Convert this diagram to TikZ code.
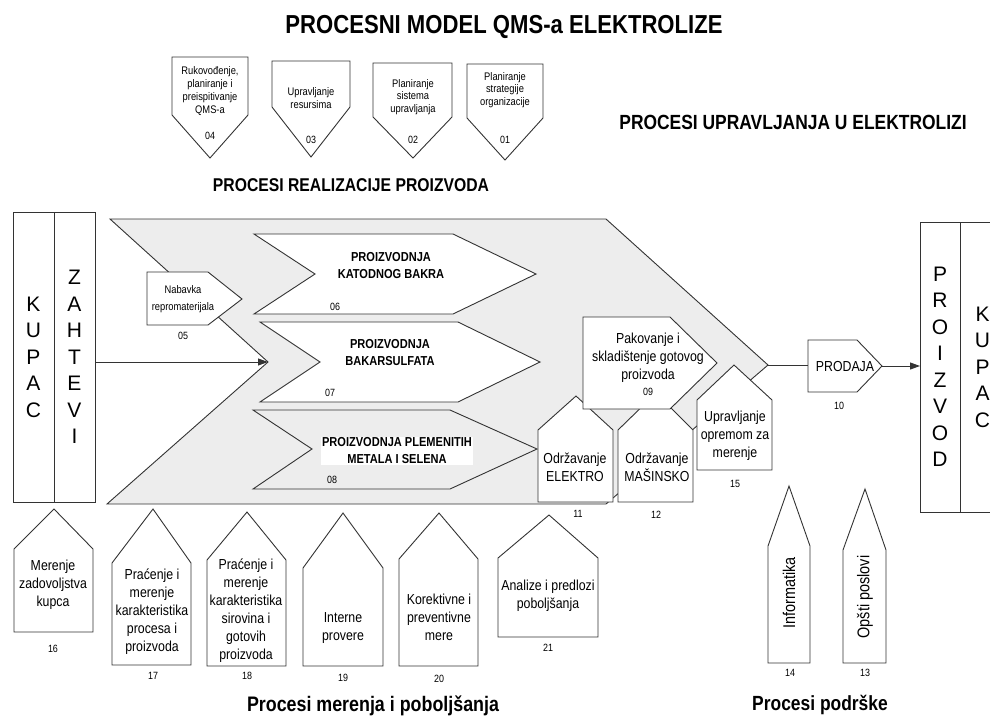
\documentclass[tikz,border=0pt]{standalone}
\usepackage{fontspec}
\setmainfont{Liberation Sans}[FakeStretch=0.85]
\newfontfamily\widefont{Liberation Sans}
\usetikzlibrary{arrows.meta}
\newcommand{\setfs}[2]{\fontsize{#1}{#2}\selectfont}

\begin{document}
\begin{tikzpicture}[x=1pt, y=-1pt, >={Triangle[length=10pt,width=7pt]},
  box/.style={draw=black!80, line width=0.9pt, fill=white, line join=miter, outer sep=0pt},
  back/.style={draw=black!80, line width=0.9pt, fill=black!7, line join=miter},
  conn/.style={draw=black!80, line width=0.9pt},
  txt/.style={align=center, inner sep=0pt, font=\setfs{14.5}{18}},
  small/.style={align=center, inner sep=0pt, font=\setfs{11}{12.8}},
  num/.style={inner sep=0pt, font=\setfs{10.5}{12}},
  bold/.style={align=center, inner sep=0pt, font=\bfseries\setfs{13}{17}},
  head/.style={inner sep=0pt, font=\bfseries\setfs{#1}{#1}},
  letters/.style={align=center, inner sep=0pt, font=\widefont\setfs{21}{26.5}}]
  \useasboundingbox (0,0) rectangle (990,716);

  % ---- titles ----
  \node[head=26] (title) at (504,27) {PROCESNI MODEL QMS-a ELEKTROLIZE};
  \node[head=20.5] (upr) at (793,122) {PROCESI UPRAVLJANJA U ELEKTROLIZI};
  \node[head=18.5] (real) at (351,185) {PROCESI REALIZACIJE PROIZVODA};

  % ---- management processes ----
  \draw[box] (172,57) -- (248,57) -- (248,115) -- (210,158) -- (172,115) -- cycle;
  \node[small] (p04) at (210,91) {Rukovođenje,\\planiranje i\\preispitivanje\\QMS-a};
  \node[num] (n04) at (210,136) {04};
  \draw[box] (272,61) -- (350,61) -- (350,107) -- (311,157) -- (272,107) -- cycle;
  \node[small] (p03) at (311,98) {Upravljanje\\resursima};
  \node[num] (n03) at (311,140) {03};
  \draw[box] (373,63) -- (452,63) -- (452,117) -- (413,158) -- (373,117) -- cycle;
  \node[small] (p02) at (413,97) {Planiranje\\sistema\\upravljanja};
  \node[num] (n02) at (413,140) {02};
  \draw[box] (467,64) -- (543,64) -- (543,118) -- (505,160) -- (467,118) -- cycle;
  \node[small] (p01) at (505,90) {Planiranje\\strategije\\organizacije};
  \node[num] (n01) at (505,140) {01};

  % ---- customer requirements ----
  \node[box, minimum width=41, minimum height=290, anchor=north west] (kupac) at (13,212) {};
  \node[box, minimum width=41, minimum height=290, anchor=north west] (zahtevi) at (kupac.north east) {};
  \node[letters] (kupacT) at (kupac) {K\\U\\P\\A\\C};
  \node[letters] (zahteviT) at (zahtevi) {Z\\A\\H\\T\\E\\V\\I};

  % ---- realization processes ----
  \draw[back] (110,219) -- (606,219) -- (768,365) -- (606,504) -- (107,504) -- (268,362) -- cycle;
  \coordinate (notch) at (268,362);
  \coordinate (tip) at (768,365);
  \draw[conn, ->] (zahtevi.east |- notch) -- (notch);

  \draw[box] (147,272) -- (208,272) -- (242,299) -- (208,325) -- (147,325) -- cycle;
  \node[txt, font=\setfs{11}{17}] (nab) at (183,299) {Nabavka\\repromaterijala};
  \node[num] (n05) at (183,336) {05};

  \draw[box] (254,234) -- (453,234) -- (536,274) -- (453,314) -- (254,314) -- (315,274) -- cycle;
  \node[bold] (katod) at (391,266) {PROIZVODNJA\\KATODNOG BAKRA};
  \node[num] (n06) at (335,307) {06};
  \draw[box] (260,322) -- (458,322) -- (540,362) -- (458,402) -- (260,402) -- (320,362) -- cycle;
  \node[bold] (bsulf) at (390,353) {PROIZVODNJA\\BAKARSULFATA};
  \node[num] (n07) at (330,393) {07};
  \draw[back] (253,410) -- (450,410) -- (537,449) -- (450,489) -- (253,489) -- (312,449) -- cycle;
  \node[bold, fill=white, inner sep=1pt] (plem) at (397,451) {PROIZVODNJA PLEMENITIH\\METALA I SELENA};
  \node[num] (n08) at (332,480) {08};

  % ---- maintenance, packing ----
  \draw[box] (538,502) -- (538,430) -- (576,396) -- (613,430) -- (613,502) -- cycle;
  \node[txt] (elek) at (575,467) {Održavanje\\ELEKTRO};
  \node[num] (n11) at (578,514) {11};
  \draw[box] (618,502) -- (618,430) -- (656,393) -- (693,430) -- (693,502) -- cycle;
  \node[txt] (masin) at (657,467) {Održavanje\\MAŠINSKO};
  \node[num] (n12) at (656,515) {12};
  \draw[box] (583,317) -- (670,317) -- (717,363) -- (670,409) -- (583,409) -- cycle;
  \node[txt] (pak) at (648,358) {Pakovanje i\\skladištenje gotovog\\proizvoda};
  \node[num] (n09) at (648,392) {09};
  \draw[box] (697,470) -- (697,400) -- (734,365) -- (772,400) -- (772,470) -- cycle;
  \node[txt] (opr) at (735,436) {Upravljanje\\opremom za\\merenje};
  \node[num] (n15) at (735,484) {15};

  % ---- sale and product ----
  \draw[box] (808,340) -- (857,340) -- (882,366) -- (857,392) -- (808,392) -- cycle;
  \node[txt] (prod) at (845,366) {PRODAJA};
  \node[num] (n10) at (839,406) {10};
  \coordinate (prodW) at (808,365);
  \coordinate (prodE) at (882,366);
  \draw[conn] (tip) -- (prodW);
  \node[box, minimum width=40, minimum height=290, anchor=north west] (proizvod) at (920,222) {};
  \node[box, minimum width=45, minimum height=290, anchor=north west] (kupacR) at (proizvod.north east) {};
  \node[letters] (proizvodT) at (proizvod) {P\\R\\O\\I\\Z\\V\\O\\D};
  \node[letters] (kupacRT) at (kupacR) {K\\U\\P\\A\\C};
  \draw[conn, ->] (prodE) -- (prodE -| proizvod.west);

  % ---- measurement and improvement ----
  \draw[box] (14,632) -- (14,549) -- (54,509) -- (93,549) -- (93,632) -- cycle;
  \node[txt] (p16) at (53,585) {Merenje\\zadovoljstva\\kupca};
  \node[num] (n16) at (53,649) {16};
  \draw[box] (112,665) -- (112,563) -- (153,509) -- (191,563) -- (191,665) -- cycle;
  \node[txt] (p17) at (152,612) {Praćenje i\\merenje\\karakteristika\\procesa i\\proizvoda};
  \node[num] (n17) at (153,676) {17};
  \draw[box] (207,666) -- (207,560) -- (247,512) -- (286,560) -- (286,666) -- cycle;
  \node[txt] (p18) at (246,611) {Praćenje i\\merenje\\karakteristika\\sirovina i\\gotovih\\proizvoda};
  \node[num] (n18) at (247,676) {18};
  \draw[box] (303,666) -- (303,568) -- (343,513) -- (383,568) -- (383,666) -- cycle;
  \node[txt] (p19) at (343,628) {Interne\\provere};
  \node[num] (n19) at (343,678) {19};
  \draw[box] (399,666) -- (399,559) -- (439,513) -- (478,559) -- (478,666) -- cycle;
  \node[txt] (p20) at (439,617) {Korektivne i\\preventivne\\mere};
  \node[num] (n20) at (439,679) {20};
  \draw[box] (498,637) -- (498,558) -- (549,515) -- (598,558) -- (598,637) -- cycle;
  \node[txt] (p21) at (548,596) {Analize i predlozi\\poboljšanja};
  \node[num] (n21) at (548,648) {21};
  \node[head=21] (mer) at (373,706) {Procesi merenja i poboljšanja};

  % ---- support ----
  \draw[box] (768,663) -- (768,546) -- (789,486) -- (810,546) -- (810,663) -- cycle;
  \node[txt, rotate=90, font=\setfs{17}{20}] (p14) at (789,593) {Informatika};
  \node[num] (n14) at (790,673) {14};
  \draw[box] (843,663) -- (843,550) -- (865,489) -- (886,550) -- (886,663) -- cycle;
  \node[txt, rotate=90, font=\setfs{17}{20}] (p13) at (865,597) {Opšti poslovi};
  \node[num] (n13) at (865,673) {13};
  \node[head=20.5] (podr) at (820,705) {Procesi podrške};
\end{tikzpicture}
\end{document}
